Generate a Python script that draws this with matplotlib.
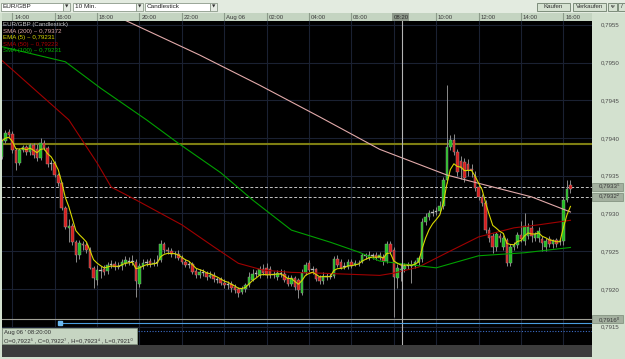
'''
EUR/GBP 10 min candlestick chart
'''

import numpy as np
import pandas as pd
import matplotlib
matplotlib.use('Agg')
import matplotlib.pyplot as plt
from matplotlib.patches import Rectangle
import matplotlib.transforms as mtransforms

plt.rcParams['font.family'] = ['Liberation Sans', 'DejaVu Sans']

# ═══ Data ═════════════════════════════════════════════════════════════════

# prices in 1e-5 above 0.79000, one candle every 10 minutes from Aug 05 13:30
opens = [375, 396, 408, 405, 384, 367, 384, 388, 381, 391, 386, 374, 394, 387, 366, 367, 351, 340, 307, 281,
         284, 262, 245, 260, 258, 252, 228, 212, 225, 226, 224, 232, 233, 229, 230, 235, 237, 236, 236, 207,
         230, 235, 237, 233, 235, 238, 260, 252, 250, 246, 247, 241, 236, 232, 233, 224, 218, 222, 221, 216,
         218, 213, 213, 208, 205, 206, 202, 200, 196, 200, 205, 212, 220, 219, 227, 228, 226, 219, 216, 221,
         220, 214, 207, 214, 212, 195, 221, 234, 225, 226, 216, 210, 217, 216, 217, 240, 236, 229, 229, 236,
         232, 234, 236, 245, 241, 244, 245, 241, 243, 237, 260, 251, 214, 225, 227, 231, 232, 231, 236, 240,
         289, 296, 301, 302, 303, 310, 345, 388, 398, 381, 370, 368, 366, 359, 350, 335, 322, 314, 278, 270,
         256, 270, 256, 265, 234, 256, 258, 272, 263, 270, 281, 268, 268, 266, 256, 266, 259, 265, 262, 263,
         318, 338]
closes = [396, 407, 404, 384, 367, 384, 388, 381, 391, 378, 374, 394, 387, 366, 367, 351, 340, 307, 282, 284,
          262, 245, 261, 258, 252, 228, 215, 225, 224, 222, 232, 233, 229, 230, 236, 238, 236, 237, 210, 230,
          235, 236, 233, 235, 236, 260, 252, 250, 246, 247, 241, 236, 232, 233, 223, 218, 222, 221, 216, 218,
          213, 212, 208, 205, 206, 201, 199, 195, 200, 205, 216, 220, 221, 226, 221, 218, 219, 220, 221, 220,
          212, 207, 214, 202, 199, 221, 232, 225, 226, 213, 210, 217, 216, 217, 240, 232, 228, 230, 236, 231,
          234, 235, 245, 244, 245, 245, 241, 245, 237, 259, 249, 216, 228, 227, 231, 232, 231, 236, 241, 289,
          296, 301, 302, 303, 310, 345, 388, 398, 381, 355, 360, 347, 358, 357, 334, 322, 314, 278, 268, 256,
          273, 268, 268, 234, 256, 258, 272, 266, 283, 282, 270, 273, 277, 261, 264, 259, 263, 259, 263, 318,
          332, 332]
highs = [399, 410, 412, 409, 387, 387, 391, 391, 394, 394, 392, 400, 397, 389, 371, 369, 354, 342, 310, 293,
         287, 265, 265, 263, 262, 256, 230, 232, 230, 232, 236, 238, 237, 236, 240, 244, 242, 245, 240, 234,
         240, 240, 241, 240, 245, 265, 262, 255, 254, 250, 252, 245, 240, 237, 236, 228, 226, 226, 224, 224,
         222, 216, 216, 213, 210, 210, 207, 203, 204, 208, 222, 226, 225, 230, 233, 234, 230, 224, 225, 226,
         225, 218, 218, 217, 214, 226, 236, 238, 230, 228, 219, 222, 221, 221, 244, 245, 240, 236, 240, 240,
         238, 238, 248, 248, 250, 248, 249, 249, 246, 263, 264, 255, 233, 234, 234, 236, 238, 239, 244, 294,
         300, 304, 306, 308, 316, 349, 470, 404, 405, 385, 376, 374, 372, 365, 356, 339, 326, 318, 282, 274,
         276, 274, 272, 268, 260, 262, 276, 290, 300, 287, 292, 276, 282, 270, 268, 270, 266, 268, 266, 322,
         344, 345]
lows = [372, 393, 401, 380, 358, 364, 381, 378, 378, 374, 370, 371, 384, 362, 358, 348, 336, 304, 279, 262,
        258, 236, 240, 252, 248, 226, 201, 205, 215, 218, 220, 228, 225, 226, 225, 230, 232, 232, 190, 203,
        226, 230, 229, 230, 231, 236, 248, 246, 243, 241, 238, 233, 229, 228, 220, 214, 214, 217, 212, 214,
        209, 208, 205, 201, 200, 196, 195, 190, 193, 196, 203, 210, 216, 215, 218, 215, 215, 214, 212, 216,
        209, 204, 204, 199, 188, 192, 218, 222, 220, 210, 206, 207, 212, 213, 215, 229, 226, 226, 227, 228,
        230, 231, 234, 240, 238, 240, 238, 238, 232, 234, 246, 163, 201, 210, 222, 226, 208, 228, 232, 236,
        285, 292, 297, 298, 300, 306, 340, 384, 377, 350, 346, 342, 350, 348, 330, 318, 310, 274, 262, 248,
        250, 262, 252, 230, 230, 252, 254, 262, 258, 266, 262, 264, 262, 250, 250, 255, 254, 255, 258, 258,
        315, 327]

# moving averages: (candle index, price in 1e-5 above 0.79)
sma200_idx = [34, 56, 73, 90, 107, 126, 135, 150, 161]
sma200_val = [558, 510, 470, 428, 385, 351, 340, 322, 302]
sma50_idx = [0, 19, 27, 31, 38, 51, 60, 67, 74, 82, 90, 107, 111, 118, 126, 135, 145, 152, 161]
sma50_val = [503, 424, 367, 335, 318, 285, 256, 234, 225, 222, 221, 218, 221, 229, 248, 269, 281, 285, 291]
sma100_idx = [0, 18, 28, 41, 50, 62, 71, 82, 93, 101, 107, 123, 135, 148, 161]
sma100_val = [521, 501, 466, 424, 393, 354, 318, 278, 262, 249, 237, 228, 244, 248, 255]

# horizontal levels
level_olive = 0.79392
level_ask = 0.79335
level_bid = 0.79322
level_cross = 0.79160
level_blue = 0.79155
level_dotted = 0.79144

price_ticks = [0.7915, 0.7920, 0.7925, 0.7930, 0.7935, 0.7940, 0.7945, 0.7950, 0.7955]
time_ticks = ['14:00', '16:00', '18:00', '20:00', '22:00', 'Aug 06', '02:00', '04:00', '06:00',
              '08:00', '10:00', '12:00', '14:00', '16:00']
cursor_time = '08:20'

legend_lines = ['EUR/GBP (Candlestick)', 'SMA (200) ~ 0,79372', 'EMA (5) ~ 0,79231',
                'SMA (50) ~ 0,79223', 'SMA (100) ~ 0,79231']

# ═══ Computation ══════════════════════════════════════════════════════════

base = 0.79
O = base + np.array(opens)/1e5
C = base + np.array(closes)/1e5
Hh = base + np.array(highs)/1e5
L = base + np.array(lows)/1e5
n = len(O)
times = pd.date_range('2013-08-05 13:30', periods=n, freq='10min')
x = np.arange(n)

ema5 = pd.Series(C).ewm(span=5, adjust=False).mean().values

# tick indices: 14:00 day 1 is candle 3, one label every 12 candles
tick_idx = [3 + 12*k for k in range(len(time_ticks))]
cur_idx = int(np.where(times == pd.Timestamp('2013-08-06 ' + cursor_time))[0][0])

# ═══ Figure ═══════════════════════════════════════════════════════════════

W, H = 625, 359
fig = plt.figure(figsize=(W/100, H/100), dpi=100)
fig.patch.set_facecolor('#d3e1cf')

def box(x0, y0, x1, y1):
    return [x0/W, 1 - y1/H, (x1 - x0)/W, (y1 - y0)/H]

def frect(x0, y0, x1, y1, fc, ec='none', lw=0.6, z=1):
    fig.patches.append(Rectangle((x0/W, 1 - y1/H), (x1 - x0)/W, (y1 - y0)/H,
                                 transform=fig.transFigure, facecolor=fc, edgecolor=ec,
                                 linewidth=lw, zorder=z))

def ftext(px, py, s, **kw):
    fig.text(px/W, 1 - py/H, s, **kw)

# ─── Toolbar
frect(0, 0, W, 13, '#e3ebe0')
for (x0, x1, label) in [(1, 70, 'EUR/GBP'), (73, 143, '10 Min.'), (145, 217, 'Candlestick')]:
    frect(x0, 2.5, x1 - 7, 11, 'white', '#8c9a8a')
    frect(x1 - 7, 2.5, x1, 11, '#e6ece4', '#8c9a8a')
    ftext(x0 + 2, 7, label, fontsize=4.6, color='#202020', va='center')
    ftext(x1 - 3.5, 7, '▼', fontsize=3.2, color='#303030', va='center', ha='center',
          family='DejaVu Sans')
for (x0, x1, label) in [(537, 570, 'Kaufen'), (573, 606, 'Verkaufen')]:
    frect(x0, 2.5, x1, 11, '#d6e2d2', '#6e7e6c')
    ftext((x0 + x1)/2, 7, label, fontsize=4.4, color='#303030', va='center', ha='center')
frect(608, 2.5, 617, 11, '#d6e2d2', '#6e7e6c')
ftext(612.5, 7, 'ᴪ', fontsize=4.5, color='#303030', va='center', ha='center', family='DejaVu Sans')
frect(618, 2.5, 626, 11, '#d6e2d2', '#6e7e6c')
ftext(622, 7, '/', fontsize=4.5, color='#303030', va='center', ha='center')

# ─── Main chart
ax = fig.add_axes(box(2, 21, 592, 345))
ax.set_facecolor('black')
ax.set_xlim(0.08, 167.1)
ax.set_ylim(0.791258, 0.79555)
for s in ax.spines.values():
    s.set_visible(False)

for p in price_ticks:
    ax.axhline(p, color='#1a2132', lw=0.8, zorder=0)
for t in tick_idx:
    ax.axvline(t, color='#1a2132', lw=0.8, zorder=0)

ax.yaxis.tick_right()
ax.set_yticks(price_ticks)
ax.set_yticklabels([f'{p:.4f}'.replace('.', ',') for p in price_ticks])
ax.tick_params(axis='y', length=0, pad=6, labelsize=4.4, labelcolor='#4a4a4a')
ax.set_xticks([])

# candles
up = C >= O
ax.vlines(x, L, Hh, color='#8c8c8c', lw=0.7, zorder=2)
body_lo = np.minimum(O, C)
body_h = np.maximum(np.abs(C - O), 0.000006)
body_col = np.where(np.abs(C - O) < 0.000015, '#d8d8d8', np.where(up, '#20c020', '#d81c1c'))
ax.bar(x, body_h, bottom=body_lo, width=0.72, color=body_col, edgecolor='#a0a0a0',
       linewidth=0.3, zorder=3)

# moving averages
ax.plot(sma200_idx, base + np.array(sma200_val)/1e5, color='#e2aaaa', lw=0.8, zorder=4)
ax.plot(sma50_idx, base + np.array(sma50_val)/1e5, color='#a00000', lw=0.8, zorder=4)
ax.plot(sma100_idx, base + np.array(sma100_val)/1e5, color='#00a000', lw=0.8, zorder=4)
ax.plot(x, ema5, color='#d8d800', lw=0.8, zorder=5)

# horizontal lines
ax.axhline(level_olive, color='#7e7e12', lw=1.5, zorder=1)
ax.axhline(level_ask, color='#c4c4c4', lw=0.7, ls=(0, (3, 2)), zorder=1)
ax.axhline(level_bid, color='#c4c4c4', lw=0.7, ls=(0, (3, 2)), zorder=1)
ax.axhline(level_cross, color='#a0a096', lw=0.8, zorder=6)
ax.axvline(cur_idx + 0.25, color='#b4b4b4', lw=0.8, zorder=6)
ax.plot([16.5, 167.1], [level_blue, level_blue], color='#4a9ee0', lw=0.8, zorder=6)
ax.plot([16.5], [level_blue], 's', color='#6ab8f0', ms=2.2, zorder=7)
ax.axhline(level_dotted, color='#3c6cc8', lw=0.8, ls=(0, (1, 1.5)), zorder=6)

# legend text
colors = ['#c4c4c4', '#e2aaaa', '#d8d800', '#b00000', '#00b400']
for k, (s, c) in enumerate(zip(legend_lines, colors)):
    ftext(3, 24.5 + 6.6*k, s, fontsize=4.4, color=c, va='center')

# info box for the cursor candle
frect(2, 328, 137, 344, '#c6d5c2', '#8a9a88', z=5)
def fmt(v):
    s = f'{v:.5f}'.replace('.', ',')
    sup = str.maketrans('0123456789', '⁰¹²³⁴⁵⁶⁷⁸⁹')
    return s[:-1] + s[-1].translate(sup)
ftext(4, 332.3, f"Aug 06 ' {cursor_time}:00", fontsize=4.3, color='#303030', va='center', zorder=6)
ftext(4, 340, f'O={fmt(O[cur_idx])} , C={fmt(C[cur_idx])} , H={fmt(Hh[cur_idx])} , L={fmt(L[cur_idx])}',
      fontsize=4.3, color='#303030', va='center', zorder=6)

# scroll bar
frect(2, 345, 592, 357, '#3c3c3c', z=2)

# ─── Time band
axb = fig.add_axes(box(2, 13, 592, 21))
axb.set_facecolor('#c4d4c1')
axb.set_xlim(ax.get_xlim())
axb.set_ylim(0, 1)
axb.set_xticks([])
axb.set_yticks([])
for s in axb.spines.values():
    s.set_visible(False)
for t, lab in zip(tick_idx, time_ticks):
    axb.axvline(t, color='#8c9c8a', lw=0.8)
    if lab != '08:00':
        axb.text(t + 0.5, 0.45, lab, fontsize=4.3, color='#3a3a3a', va='center', ha='left')
axb.add_patch(Rectangle((cur_idx - 2.4, 0), 4.8, 1, facecolor='#8e998b', edgecolor='none'))
axb.text(cur_idx + 0.25, 0.45, cursor_time, fontsize=4.3, color='#2a2a2a', va='center', ha='center')

# ─── Right axis boxes
trans = mtransforms.blended_transform_factory(ax.transAxes, ax.transData)
for lvl in [level_ask, level_bid, level_cross]:
    ax.add_patch(Rectangle((1.0, lvl - 0.00005), 0.052, 0.0001, transform=trans,
                           facecolor='#a3b09f', edgecolor='#7a8a78', lw=0.5, clip_on=False, zorder=8))
    ax.text(1.012, lvl, fmt(lvl), transform=trans, fontsize=4.4, color='#3a3a3a',
            va='center', ha='left', clip_on=False, zorder=9)

fig.savefig('out.png', dpi=100, facecolor=fig.get_facecolor())
